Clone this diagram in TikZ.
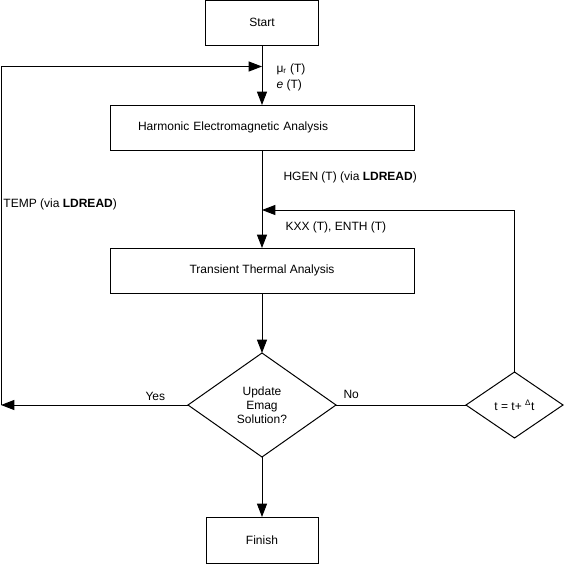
\documentclass[tikz,border=0pt]{standalone}
\usepackage{fontspec}
\setmainfont{Liberation Sans}
\usetikzlibrary{positioning,arrows.meta,shapes.geometric}

\begin{document}
\begin{tikzpicture}[x=0.75pt, y=-0.75pt, line width=0.75pt,
                    font=\fontsize{9}{10.5}\selectfont,
                    box/.style={rectangle, draw, inner sep=0pt, outer sep=0pt},
                    decide/.style={diamond, draw, inner sep=0pt, outer sep=0pt, align=center},
                    lbl/.style={inner sep=0pt, anchor=west},
                    arr/.style={-{Triangle[length=10pt, width=7.5pt]}}]
        \useasboundingbox (0,0) rectangle (564,565);
        \node[box, minimum width=84.75pt, minimum height=33.75pt] (start) at (262,22.5) {Start};
        \node[box, minimum height=33.75pt, inner xsep=21pt, text width=186pt, align=left] (emag)[below=45pt of start] {Harmonic Electromagnetic Analysis};
        \node[box, minimum width=228pt, minimum height=33.75pt] (therm)[below=73.5pt of emag] {Transient Thermal Analysis};
        \node[decide, minimum width=111pt, minimum height=78pt] (upd)[below=45pt of therm] {Update\\Emag\\Solution?};
        \node[box, minimum width=84pt, minimum height=34.5pt] (finish)[below=45pt of upd] {Finish};
        \node[decide, minimum width=72.75pt, minimum height=49.5pt] (tstep)[right=97.5pt of upd] {t = t+ \textsuperscript{Δ}t};
        \coordinate (lc) at (1,66.5);
        \coordinate (rj) at (262,210);
        \draw[arr] (start) -- (emag);
        \draw[arr] (emag) -- (therm);
        \draw[arr] (therm) -- (upd);
        \draw[arr] (upd) -- (finish);
        \draw[arr] (upd.west) -- (upd.west -| lc);
        \draw[arr] (lc |- upd.west) -- (lc) -- (lc -| start);
        \draw (upd.east) -- (tstep.west);
        \draw[arr] (tstep.north) |- (rj);
        \node[lbl] (mur) at (276,69) {μ\textsubscript{r} (T)};
        \node[lbl] (ept) at (276,85) {\textit{e} (T)};
        \node[lbl] (hgen) at (283,177) {HGEN (T) (via \textbf{LDREAD})};
        \node[lbl] (kxx) at (285,227) {KXX (T), ENTH (T)};
        \node[lbl] (temp) at (3,204) {TEMP (via \textbf{LDREAD})};
        \node[lbl] (yes) at (145,396) {Yes};
        \node[lbl] (no) at (343,394) {No};
      \end{tikzpicture}
\end{document}
